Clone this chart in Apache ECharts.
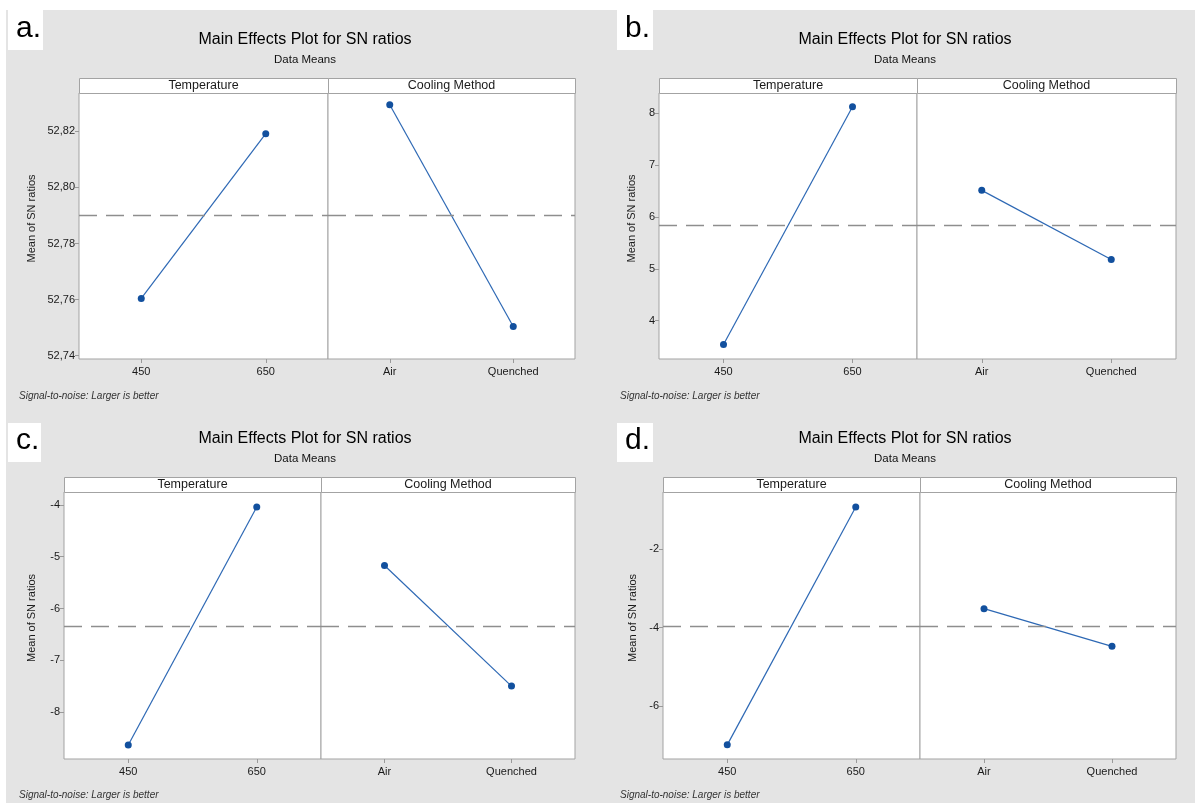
<!DOCTYPE html>
<html>
<head>
<meta charset="utf-8">
<title>Main Effects Plot for SN ratios</title>
<script src="https://cdn.jsdelivr.net/npm/echarts@6/dist/echarts.min.js"></script>
<style>
  html, body { margin: 0; padding: 0; background: #fff; }
  #chart { width: 1195px; height: 803px; }
</style>
</head>
<body>
<div id="chart"></div>
<script>
// factor levels
const temperatureLevels = ["450", "650"];
const coolingLevels = ["Air", "Quenched"];
const factorNames = ["Temperature", "Cooling Method"];

// means of SN ratios
const tempA = [52.7604, 52.8192];
const coolA = [52.8295, 52.7504];
const tempB = [3.54, 8.12];
const coolB = [6.51, 5.18];
const tempC = [-8.64, -4.04];
const coolC = [-5.17, -7.50];
const tempD = [-6.99, -0.93];
const coolD = [-3.52, -4.48];

// y tick labels
const ticksA = [52.74, 52.76, 52.78, 52.8, 52.82];
const ticksB = [4, 5, 6, 7, 8];
const ticksC = [-8, -7, -6, -5, -4];
const ticksD = [-6, -4, -2];

const FONT = "Liberation Sans";
const BLUE = "#2d68b4";

// layout of the four panels (pixels in the 1195x803 picture)
const panels = [
  { label: "a.", temp: tempA, cool: coolA, ticks: ticksA, range: [52.7388, 52.8337],
    fmt: (v) => v.toFixed(2).replace(".", ","),
    top: 93, height: 266, left: 79, split: 328, right: 575, nameX: 32,
    box: [8, 10, 35, 40], titleX: 305, titleY: 40, noteX: 19, noteY: 396 },
  { label: "b.", temp: tempB, cool: coolB, ticks: ticksB, range: [3.262, 8.385],
    fmt: (v) => String(v),
    top: 93, height: 266, left: 659, split: 917, right: 1176, nameX: 632,
    box: [617, 10, 36, 40], titleX: 905, titleY: 40, noteX: 620, noteY: 396 },
  { label: "c.", temp: tempC, cool: coolC, ticks: ticksC, range: [-8.909, -3.749],
    fmt: (v) => String(v),
    top: 492, height: 267, left: 64, split: 321, right: 575, nameX: 32,
    box: [8, 423, 33, 39], titleX: 305, titleY: 439, noteX: 19, noteY: 795 },
  { label: "d.", temp: tempD, cool: coolD, ticks: ticksD, range: [-7.35, -0.548],
    fmt: (v) => String(v),
    top: 492, height: 267, left: 663, split: 920, right: 1176, nameX: 633,
    box: [617, 423, 36, 39], titleX: 905, titleY: 439, noteX: 620, noteY: 795 },
];

const grid = [], xAxis = [], yAxis = [], series = [];
const graphic = [
  { type: "rect", shape: { x: 0, y: 0, width: 1195, height: 10 }, style: { fill: "#fff" }, silent: true },
  { type: "rect", shape: { x: 0, y: 0, width: 6, height: 803 }, style: { fill: "#fff" }, silent: true },
];

const mean = (arr) => arr.reduce((s, v) => s + v, 0) / arr.length;

panels.forEach((p) => {
  const overall = mean(p.temp.concat(p.cool));
  const cols = [
    { x: p.left, w: p.split - p.left, levels: temperatureLevels, data: p.temp, name: factorNames[0] },
    { x: p.split, w: p.right - p.split, levels: coolingLevels, data: p.cool, name: factorNames[1] },
  ];
  cols.forEach((c, k) => {
    const idx = grid.length;
    grid.push({
      left: c.x, top: p.top, width: c.w, height: p.height,
      show: true, backgroundColor: "#fff", borderColor: "#a3a3a3", borderWidth: 1,
    });
    xAxis.push({
      type: "category", gridIndex: idx, data: c.levels, boundaryGap: true,
      axisLine: { show: false },
      axisTick: { show: true, alignWithLabel: true, length: 4, lineStyle: { color: "#9a9a9a" } },
      axisLabel: { fontFamily: FONT, fontSize: 11, color: "#1a1a1a", margin: 7 },
      splitLine: { show: false },
    });
    yAxis.push({
      type: "value", gridIndex: idx, min: p.range[0], max: p.range[1],
      axisLine: { show: false },
      axisTick: { show: k === 0, length: 4, customValues: p.ticks, lineStyle: { color: "#9a9a9a" } },
      axisLabel: { show: k === 0, customValues: p.ticks, formatter: p.fmt,
        fontFamily: FONT, fontSize: 11, color: "#1a1a1a", margin: 4 },
      splitLine: { show: false },
    });
    series.push({
      type: "line", xAxisIndex: idx, yAxisIndex: idx, data: c.data,
      symbol: "circle", symbolSize: 7,
      lineStyle: { color: BLUE, width: 1.2 },
      itemStyle: { color: "#12509e" },
      markLine: {
        silent: true, symbol: "none", label: { show: false },
        lineStyle: { color: "#8e8e8e", type: [18, 9], width: 1.3 },
        data: [{ yAxis: overall }],
      },
    });
    // factor strip on top of each subplot
    graphic.push({
      type: "rect", silent: true,
      shape: { x: c.x + 0.5, y: p.top - 15 + 0.5, width: c.w, height: 15 },
      style: { fill: "#fff", stroke: "#a3a3a3", lineWidth: 1 },
    });
    graphic.push({
      type: "text", silent: true,
      style: { x: c.x + c.w / 2, y: p.top - 7, text: c.name, textAlign: "center",
        textVerticalAlign: "middle", font: `12.5px "${FONT}"`, fill: "#1a1a1a" },
    });
  });

  // y axis title, centred on the box including the strip
  graphic.push({
    type: "text", silent: true,
    x: p.nameX, y: (p.top - 15 + p.top + p.height) / 2, rotation: Math.PI / 2,
    style: { x: 0, y: 0, text: "Mean of SN ratios", textAlign: "center",
      textVerticalAlign: "middle", font: `11px "${FONT}"`, fill: "#1a1a1a" },
  });
  // panel letter box
  graphic.push({
    type: "rect", silent: true,
    shape: { x: p.box[0], y: p.box[1], width: p.box[2], height: p.box[3] },
    style: { fill: "#fff" },
  });
  graphic.push({
    type: "text", silent: true,
    style: { x: p.box[0] + 8, y: p.box[1] + p.box[3] - 6, text: p.label, textAlign: "left",
      textVerticalAlign: "bottom", font: `30px "${FONT}"`, fill: "#000" },
  });
  // titles
  graphic.push({
    type: "text", silent: true,
    style: { x: p.titleX, y: p.titleY, text: "Main Effects Plot for SN ratios", textAlign: "center",
      textVerticalAlign: "middle", font: `16px "${FONT}"`, fill: "#000" },
  });
  graphic.push({
    type: "text", silent: true,
    style: { x: p.titleX, y: p.titleY + 20, text: "Data Means", textAlign: "center",
      textVerticalAlign: "middle", font: `11.5px "${FONT}"`, fill: "#111" },
  });
  graphic.push({
    type: "text", silent: true,
    style: { x: p.noteX, y: p.noteY, text: "Signal-to-noise: Larger is better", textAlign: "left",
      textVerticalAlign: "middle", font: `italic 10px "${FONT}"`, fill: "#333" },
  });
});

const chart = echarts.init(document.getElementById("chart"));
chart.setOption({
  backgroundColor: "#e4e4e4",
  animation: false,
  grid, xAxis, yAxis, series, graphic,
});
</script>
</body>
</html>
